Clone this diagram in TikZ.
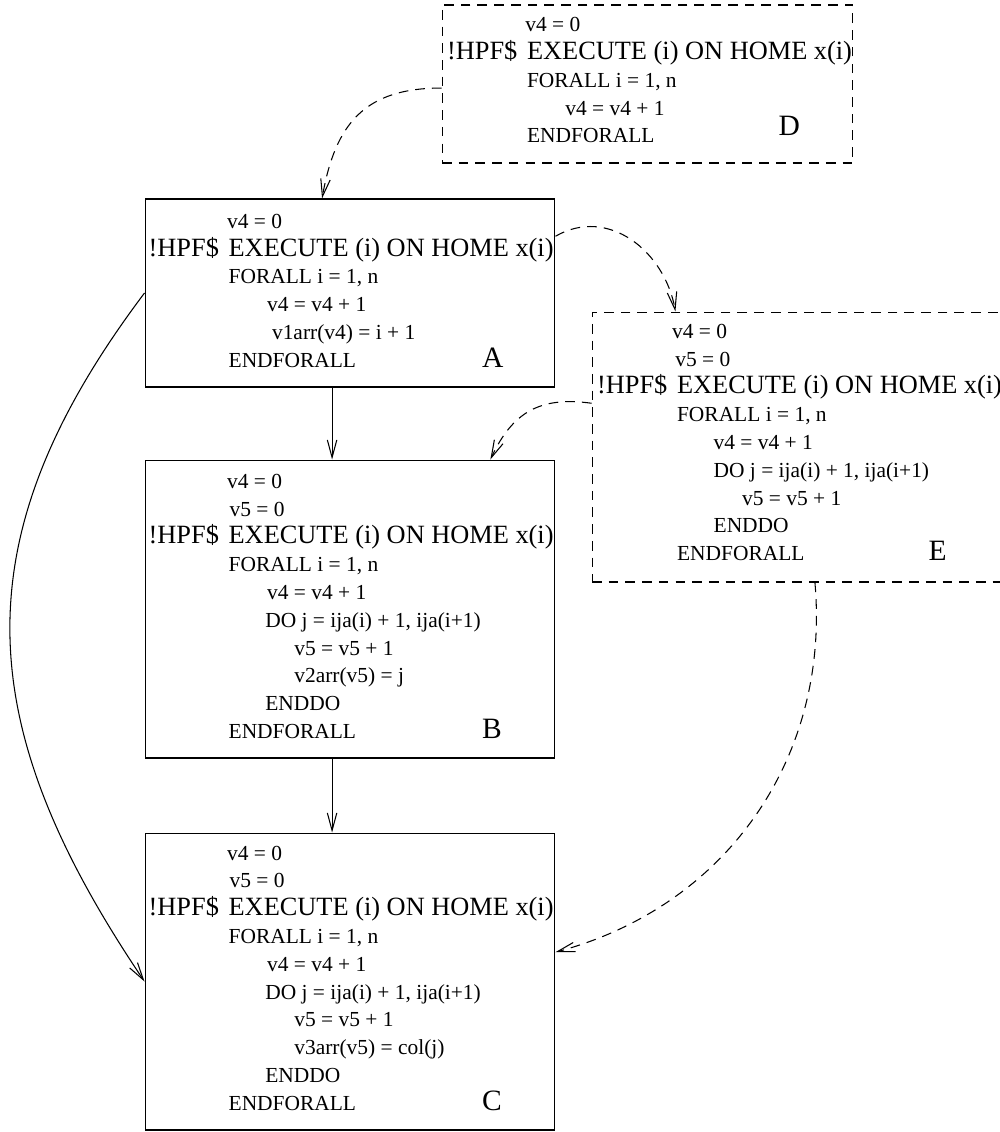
\documentclass[tikz,border=0pt]{standalone}
\usepackage{fontspec}
\setmainfont{Liberation Serif}
\usepackage{tikz}
\usetikzlibrary{arrows.meta}
\tikzset{
    box/.style={draw, rectangle, inner sep=0pt, line width=0.6pt},
    dbox/.style={box, dash pattern=on 5.5pt off 4pt},
    code/.style={anchor=base west, inner sep=0pt, font=\fontsize{12.2}{14}\selectfont},
    tag/.style={anchor=base west, inner sep=0pt, font=\fontsize{16.8}{18}\selectfont},
    flow/.style={->, line width=0.6pt},
    dflow/.style={flow, dash pattern=on 5.5pt off 4pt}
}
\newcommand{\hpffont}{\fontsize{15}{16}\selectfont}
\newcommand{\hpfline}{\llap{\hpffont !HPF\$\hspace{5.5pt}}\hpffont EXECUTE (i) ON HOME x(i)}

\begin{document}
\begin{tikzpicture}[x=0.02cm, y=-0.02cm, >={Straight Barb[length=10pt, width=5.4pt]}]
        \useasboundingbox (0,0) rectangle (1000,1132);

        % Boxes
        \node[dbox, minimum width=8.22cm, minimum height=3.16cm] (D) at (647.5, 84) {};
        \node[box, minimum width=8.2cm, minimum height=3.76cm] (A) at (350, 293) {};
        \node[box, minimum width=8.2cm, minimum height=5.96cm] (B) at (350, 609) {};
        \node[box, minimum width=8.2cm, minimum height=5.94cm] (C) at (350, 981.5) {};
        \node[dbox, minimum width=8.2cm, minimum height=5.4cm] (E) at (797, 447) {};

        % Code lines
        \foreach \dx/\txt [count=\i from 0] in {83/{v4 = 0}, 84.7/\hpfline, 84.7/{FORALL i = 1, n},
                123/{v4 = v4 + 1}, 84.7/ENDFORALL}
            \node[code] (D\i) at ({442+\dx}, {31.7+27.8*\i}) {\txt};
        \foreach \dx/\txt [count=\i from 0] in {81.7/{v4 = 0}, 83.3/\hpfline, 83.3/{FORALL i = 1, n},
                121.7/{v4 = v4 + 1}, 126.7/{v1arr(v4) = i + 1}, 83.3/ENDFORALL}
            \node[code] (A\i) at ({145+\dx}, {228.3+27.8*\i}) {\txt};
        \foreach \dx/\txt [count=\i from 0] in {81.7/{v4 = 0}, 84.3/{v5 = 0}, 83.3/\hpfline,
                83.3/{FORALL i = 1, n}, 121.7/{v4 = v4 + 1}, 120/{DO j = ija(i) + 1, ija(i+1)},
                149/{v5 = v5 + 1}, 149/{v2arr(v5) = j}, 120/ENDDO, 83.3/ENDFORALL}
            \node[code] (B\i) at ({145+\dx}, {488.3+27.8*\i}) {\txt};
        \foreach \dx/\txt [count=\i from 0] in {81.7/{v4 = 0}, 84.3/{v5 = 0}, 83.3/\hpfline,
                83.3/{FORALL i = 1, n}, 121.7/{v4 = v4 + 1}, 120/{DO j = ija(i) + 1, ija(i+1)},
                149/{v5 = v5 + 1}, 149/{v3arr(v5) = col(j)}, 120/ENDDO, 83.3/ENDFORALL}
            \node[code] (C\i) at ({145+\dx}, {860+27.8*\i}) {\txt};
        \foreach \dx/\txt [count=\i from 0] in {79.7/{v4 = 0}, 83/{v5 = 0}, 84.7/\hpfline,
                84.7/{FORALL i = 1, n}, 121.3/{v4 = v4 + 1}, 121.3/{DO j = ija(i) + 1, ija(i+1)},
                149.7/{v5 = v5 + 1}, 121.3/ENDDO, 84.7/ENDFORALL}
            \node[code] (E\i) at ({592+\dx}, {338.3+27.8*\i}) {\txt};

        % Box letters
        \node[tag] (Dlab) at (778.3, 135) {D};
        \node[tag] (Alab) at (481.7, 367) {A};
        \node[tag] (Blab) at (481.7, 738.3) {B};
        \node[tag] (Clab) at (481.7, 1110) {C};
        \node[tag] (Elab) at (928.3, 560) {E};

        % Solid edges
        \draw[flow] ([xshift=-10.2pt]A.south) -- ([xshift=-10.2pt]B.north);
        \draw[flow] ([xshift=-10.2pt]B.south) -- ([xshift=-10.2pt]C.north);
        \draw[flow] (A.west) to[out=233, in=124, looseness=1.15] (C.west);

        % Dashed edges
        \draw[dflow] ([yshift=-2.3pt]D.west) to[out=180, in=80, looseness=1.2] ([xshift=-15.9pt]A.north);
        \draw[dflow] ([yshift=32.3pt]A.east) to[out=30, in=100, looseness=1.1] ([xshift=-69.2pt]E.north);
        \draw[dflow] ([yshift=24.9pt]E.west) to[out=172, in=65, looseness=1.15] ([xshift=79.9pt]B.north);
        \draw[dflow] ([xshift=10.2pt]E.south) to[out=-85, in=15] ([yshift=16.7pt]C.east);
\end{tikzpicture}
\end{document}
